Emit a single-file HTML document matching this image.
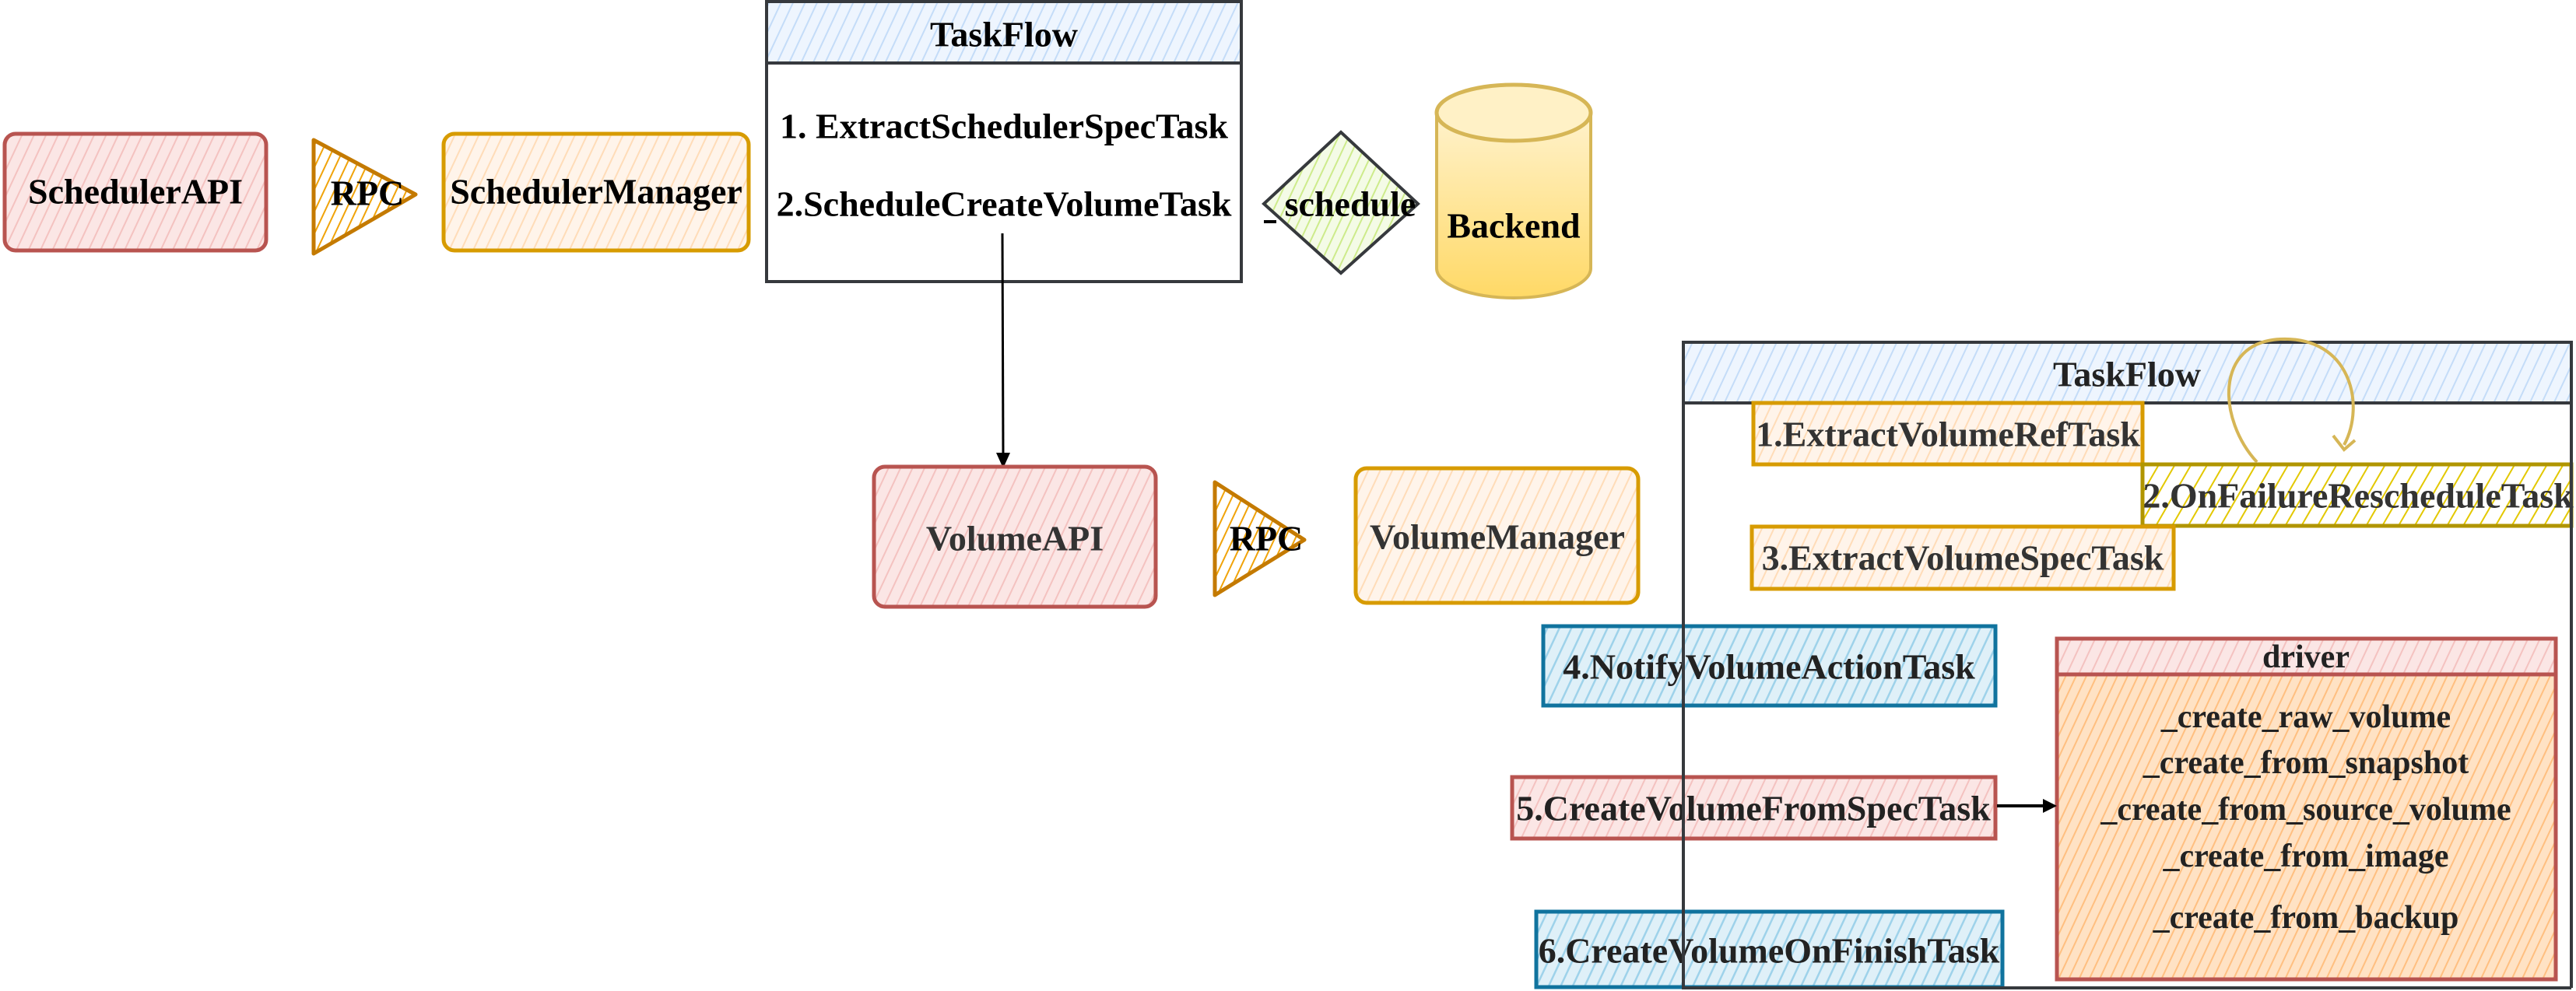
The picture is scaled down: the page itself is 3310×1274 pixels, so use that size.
<!DOCTYPE html>
<html><head><meta charset="utf-8"><style>
html,body{margin:0;padding:0;background:#fff;width:3310px;height:1274px;overflow:hidden}
svg{display:block}
text{font-family:"Liberation Serif",serif;font-weight:bold;font-size:46px;text-anchor:middle;dominant-baseline:central}
text.d{font-size:42px}
</style></head><body>
<svg width="3310" height="1274" viewBox="0 0 3310 1274" xmlns="http://www.w3.org/2000/svg">
<defs>
<pattern id="pRed" width="14" height="14" patternUnits="userSpaceOnUse" patternTransform="rotate(25)"><rect width="14" height="14" fill="#fbe6e5"/><line x1="0" y1="0" x2="0" y2="14" stroke="#f4c2c0" stroke-width="4"/></pattern>
<pattern id="pOrg" width="14" height="14" patternUnits="userSpaceOnUse" patternTransform="rotate(25)"><rect width="14" height="14" fill="#fff4ea"/><line x1="0" y1="0" x2="0" y2="14" stroke="#ffdcb8" stroke-width="4"/></pattern>
<pattern id="pRpc" width="12" height="12" patternUnits="userSpaceOnUse" patternTransform="rotate(25)"><rect width="12" height="12" fill="#fff"/><line x1="0" y1="0" x2="0" y2="12" stroke="#f0a30a" stroke-width="4"/></pattern>
<pattern id="pBlueH" width="14" height="14" patternUnits="userSpaceOnUse" patternTransform="rotate(25)"><rect width="14" height="14" fill="#eef5fe"/><line x1="0" y1="0" x2="0" y2="14" stroke="#c4dcf8" stroke-width="4"/></pattern>
<pattern id="pBlue" width="14" height="14" patternUnits="userSpaceOnUse" patternTransform="rotate(25)"><rect width="14" height="14" fill="#dff0f8"/><line x1="0" y1="0" x2="0" y2="14" stroke="#9ed2ea" stroke-width="5"/></pattern>
<pattern id="pGreen" width="12" height="12" patternUnits="userSpaceOnUse" patternTransform="rotate(25)"><rect width="12" height="12" fill="#f4fbe6"/><line x1="0" y1="0" x2="0" y2="12" stroke="#cdeb8b" stroke-width="4"/></pattern>
<pattern id="pYel" width="18" height="18" patternUnits="userSpaceOnUse" patternTransform="rotate(30)"><rect width="18" height="18" fill="#fff"/><line x1="0" y1="0" x2="0" y2="18" stroke="#e3c800" stroke-width="4"/></pattern>
<pattern id="pDrv" width="12" height="12" patternUnits="userSpaceOnUse" patternTransform="rotate(25)"><rect width="12" height="12" fill="#ffe2c4"/><line x1="0" y1="0" x2="0" y2="12" stroke="#ffbf80" stroke-width="4"/></pattern>
<linearGradient id="gCyl" x1="0" y1="0" x2="0" y2="1"><stop offset="0" stop-color="#fff2cc"/><stop offset="1" stop-color="#ffd966"/></linearGradient>
</defs>

<rect x="6" y="172" width="336" height="150" rx="14" fill="url(#pRed)" stroke="#b85450" stroke-width="5"/>
<text x="174" y="246">SchedulerAPI</text>
<path d="M403 180 L534 250 L403 326 Z" fill="url(#pRpc)" stroke="#c47a00" stroke-width="5" stroke-linejoin="round"/>
<text x="472" y="248">RPC</text>
<rect x="570" y="172" width="392" height="150" rx="14" fill="url(#pOrg)" stroke="#d79b00" stroke-width="5"/>
<text x="766" y="246">SchedulerManager</text>

<rect x="985" y="2" width="610" height="360" fill="#fff" stroke="#36393d" stroke-width="4"/>
<rect x="985" y="2" width="610" height="79" fill="url(#pBlueH)" stroke="#36393d" stroke-width="4"/>
<text x="1290" y="44">TaskFlow</text>
<text x="1290" y="162">1. ExtractSchedulerSpecTask</text>
<text x="1290" y="262">2.ScheduleCreateVolumeTask</text>
<line x1="1288" y1="300" x2="1289" y2="585" stroke="#000" stroke-width="3"/>
<path d="M1280 582 L1289 602 L1298 582 Z" fill="#000"/>

<path d="M1723 170 L1822 262 L1723 351 L1624 262 Z" fill="url(#pGreen)" stroke="#36393d" stroke-width="4"/>
<line x1="1624" y1="285" x2="1640" y2="285" stroke="#000" stroke-width="4"/>
<text x="1735" y="262">schedule</text>

<path d="M1846 145 L1846 345 A99 38 0 0 0 2044 345 L2044 145" fill="url(#gCyl)" stroke="#d6b656" stroke-width="4"/>
<ellipse cx="1945" cy="145" rx="99" ry="36" fill="#fff1c6" stroke="#d6b656" stroke-width="5"/>
<text x="1945" y="290">Backend</text>

<rect x="1123" y="600" width="362" height="180" rx="14" fill="url(#pRed)" stroke="#b85450" stroke-width="5"/>
<text x="1304" y="692" fill="#333">VolumeAPI</text>
<path d="M1561 620 L1676 694 L1561 765 Z" fill="url(#pRpc)" stroke="#c47a00" stroke-width="5" stroke-linejoin="round"/>
<text x="1627" y="692">RPC</text>
<rect x="1742" y="602" width="363" height="173" rx="14" fill="url(#pOrg)" stroke="#d79b00" stroke-width="5"/>
<text x="1924" y="690" fill="#333">VolumeManager</text>

<rect x="2163" y="440" width="1141" height="78" fill="url(#pBlueH)" stroke="#36393d" stroke-width="4"/>
<text x="2733" y="481" fill="#222">TaskFlow</text>
<rect x="2253" y="518" width="500" height="79" fill="url(#pOrg)" stroke="#d79b00" stroke-width="5"/>
<text x="2503" y="558" fill="#333">1.ExtractVolumeRefTask</text>
<rect x="2753" y="597" width="551" height="79" fill="url(#pYel)" stroke="#b09500" stroke-width="5"/>
<text x="3030" y="637" fill="#333">2.OnFailureRescheduleTask</text>
<rect x="2251" y="677" width="542" height="80" fill="url(#pOrg)" stroke="#d79b00" stroke-width="5"/>
<text x="2522" y="717" fill="#333">3.ExtractVolumeSpecTask</text>
<rect x="1983" y="805" width="581" height="102" fill="url(#pBlue)" stroke="#10739e" stroke-width="5"/>
<text x="2273" y="857" fill="#222">4.NotifyVolumeActionTask</text>
<rect x="1943" y="999" width="621" height="79" fill="url(#pRed)" stroke="#b85450" stroke-width="5"/>
<text x="2253" y="1039" fill="#222">5.CreateVolumeFromSpecTask</text>
<rect x="1974" y="1172" width="599" height="97" fill="url(#pBlue)" stroke="#10739e" stroke-width="5"/>
<text x="2273" y="1222" fill="#222">6.CreateVolumeOnFinishTask</text>

<rect x="2643" y="821" width="641" height="438" fill="url(#pDrv)" stroke="#b85450" stroke-width="5"/>
<rect x="2643" y="821" width="641" height="46" fill="url(#pRed)" stroke="#b85450" stroke-width="5"/>
<text class="d" x="2963" y="845" fill="#222">driver</text>
<text class="d" x="2963" y="922" fill="#222">_create_raw_volume</text>
<text class="d" x="2963" y="981" fill="#222">_create_from_snapshot</text>
<text class="d" x="2963" y="1041" fill="#222">_create_from_source_volume</text>
<text class="d" x="2963" y="1101" fill="#222">_create_from_image</text>
<text class="d" x="2963" y="1180" fill="#222">_create_from_backup</text>
<line x1="2566" y1="1036" x2="2628" y2="1036" stroke="#000" stroke-width="4"/>
<path d="M2625 1027 L2643 1036 L2625 1045 Z" fill="#000"/>

<path d="M2163 440 L3304 440 L3304 1270 M2163 518 L2163 1270 L3304 1270" fill="none" stroke="#36393d" stroke-width="4"/>

<path d="M2900 594 C2850 540 2845 440 2930 436 C3020 432 3040 520 3012 572" fill="none" stroke="#d6b656" stroke-width="4"/>
<path d="M2998 560 L3012 578 L3026 566" fill="none" stroke="#d6b656" stroke-width="4"/>
</svg>
</body></html>
